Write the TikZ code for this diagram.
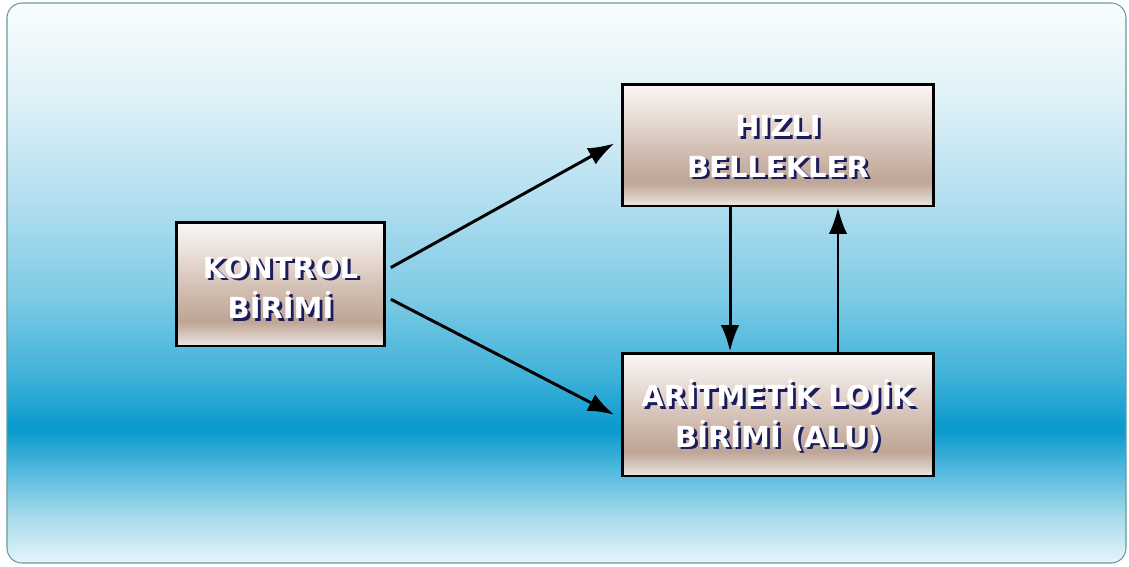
\documentclass[tikz,border=0pt]{standalone}
\usepackage{fontspec}
\setmainfont{DejaVu Sans}
\usetikzlibrary{arrows.meta}

\definecolor{framegrey}{HTML}{6A9AA0}
\definecolor{inknavy}{HTML}{1C1C5C}
% sky background, bottom to top
\pgfdeclareverticalshading{skyband}{100bp}{%
  color(0bp)=({rgb,255:red,230;green,245;blue,249}); color(25bp)=({rgb,255:red,230;green,245;blue,249});
  color(29.1bp)=({rgb,255:red,168;green,219;blue,235});
  color(33.5bp)=({rgb,255:red,77;green,183;blue,220});
  color(37bp)=({rgb,255:red,8;green,153;blue,204});
  color(41.4bp)=({rgb,255:red,60;green,176;blue,217});
  color(48.5bp)=({rgb,255:red,124;green,202;blue,228});
  color(57.3bp)=({rgb,255:red,178;green,222;blue,240});
  color(66.2bp)=({rgb,255:red,222;green,241;blue,247});
  color(75bp)=({rgb,255:red,248;green,253;blue,254});
  color(100bp)=({rgb,255:red,248;green,253;blue,254})}
% box fill, bottom to top
\pgfdeclareverticalshading{boxshade}{100bp}{%
  color(0bp)=({rgb,255:red,239;green,232;blue,228});
  color(25bp)=({rgb,255:red,239;green,232;blue,228});
  color(29bp)=({rgb,255:red,216;green,203;blue,194});
  color(35bp)=({rgb,255:red,190;green,165;blue,150});
  color(45bp)=({rgb,255:red,205;green,184;blue,171});
  color(60bp)=({rgb,255:red,230;green,217;blue,210});
  color(75bp)=({rgb,255:red,250;green,247;blue,245});
  color(100bp)=({rgb,255:red,250;green,247;blue,245})}

% white lettering with a dark drop shadow
\newcommand\shtext[1]{\leavevmode\rlap{\kern1.6pt\raisebox{-1.5pt}{\color{inknavy}#1}}\textcolor{white}{#1}}

\begin{document}
\begin{tikzpicture}[
		x=0.02cm, y=-0.02cm,
		unit box/.style={draw=black, line width=1.7pt, shade, shading=boxshade,
			inner sep=0pt, align=center,
			font=\bfseries\fontsize{16.5}{23}\selectfont},
		link/.style={-{Latex[length=15pt,width=10.5pt]}, line width=1.7pt}
	]
	\useasboundingbox (0,0) rectangle (1129,566);
	\fill[white] (0,0) rectangle (1129,566);
	\shadedraw[draw=framegrey, line width=0.6pt, rounded corners=0.3cm, shading=skyband]
		(7,3) rectangle (1126,563);

	\node[unit box, minimum width=4.18cm, minimum height=2.48cm] (kontrol) at (280.5,284)
		{\rule{0pt}{18pt}\shtext{KONTROL}\\\shtext{BİRİMİ}};
	\node[unit box, minimum width=6.24cm, minimum height=2.44cm] (hizli) at (778,145)
		{\rule{0pt}{15pt}\shtext{HIZLI}\\\shtext{BELLEKLER}};
	\node[unit box, minimum width=6.24cm, minimum height=2.46cm] (alu) at (778,414.5)
		{\rule{0pt}{18pt}\shtext{ARİTMETİK LOJİK}\\\shtext{BİRİMİ (ALU)}};

	\draw[link, shorten <=0.1cm, shorten >=0.14cm]
		([yshift=0.28cm]kontrol.east) -- ([yshift=0.1cm]hizli.west);
	\draw[link, shorten <=0.1cm, shorten >=0.14cm]
		([yshift=-0.26cm]kontrol.east) -- ([yshift=-0.07cm]alu.west);
	\draw[link] ([xshift=-0.96cm]hizli.south) -- ([xshift=-0.96cm]alu.north);
	\draw[link] ([xshift=1.2cm]alu.north) -- ([xshift=1.2cm]hizli.south);
\end{tikzpicture}
\end{document}
